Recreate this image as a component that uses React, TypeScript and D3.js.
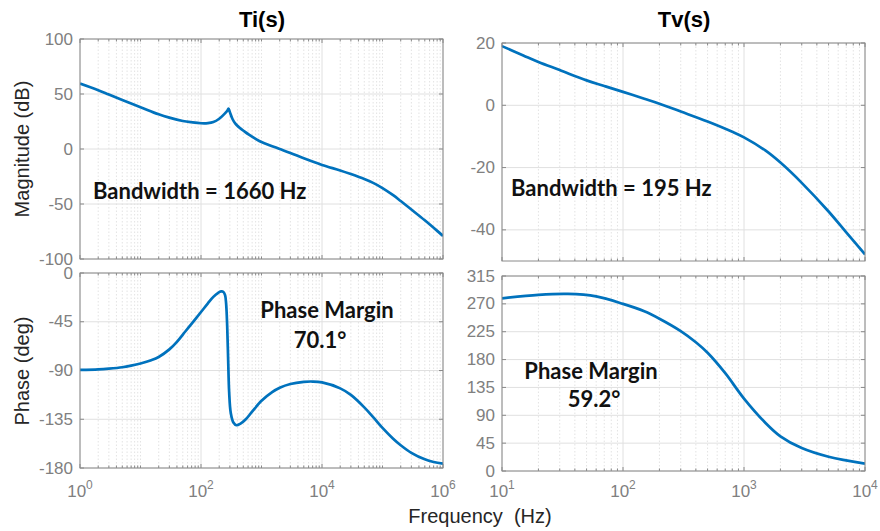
import * as d3 from "d3";

// Ti(s) loop gain
const tiMagFreq = [1, 2, 3, 5, 10, 20, 30, 50, 70, 100, 130, 160, 200, 240, 270, 285, 300, 330, 370, 430, 520, 620, 800, 1000, 1500, 2000, 3000, 5000, 1e4, 2e4, 3e4, 5e4, 7e4, 1e5, 1.5e5, 2e5, 3e5, 5e5, 7e5, 1e6];
const tiMagDb = [59.5, 53.5, 49.5, 44.5, 38, 31.5, 28.5, 25.5, 24.3, 23.4, 23.5, 24.5, 27.5, 31.5, 34.5, 36.8, 33.5, 27.5, 23, 19.5, 16, 13, 9.2, 6.3, 2.6, 0, -3.6, -8.5, -14.5, -19.5, -22.8, -27.3, -30.8, -35.5, -42, -47.3, -55, -64.8, -71.6, -79];

const tiPhaseFreq = [1, 2, 3, 5, 7, 10, 15, 20, 30, 40, 55, 73, 100, 130, 160, 190, 215, 235, 250, 260, 271, 281, 292, 310, 343, 386, 450, 550, 700, 1000, 1500, 2000, 3000, 5000, 7000, 1e4, 2e4, 3e4, 5e4, 7e4, 1e5, 1.5e5, 2e5, 3e5, 5e5, 7e5, 1e6];
const tiPhaseDeg = [-89.5, -89, -88.3, -87, -85.5, -83.5, -80.5, -77.5, -70.5, -63.5, -54, -45.5, -36, -28, -22, -18.5, -17, -17.5, -20.5, -28, -49, -80, -110, -129, -138, -140.5, -139, -135, -128, -118, -110, -106, -102.5, -100.5, -100.2, -101, -106.5, -112.5, -124, -133, -143, -153, -159, -166, -172, -174.5, -176];

// Tv(s) loop gain
const tvMagFreq = [10, 15, 20, 30, 50, 70, 100, 150, 200, 300, 500, 800, 1000, 1500, 2000, 3000, 5000, 7000, 1e4];
const tvMagDb = [19, 16, 13.9, 11.3, 8, 6.2, 4.3, 2.1, 0.5, -2, -5.2, -8.5, -10.3, -14.5, -18.4, -24.9, -34.1, -40.8, -47.9];

const tvPhaseFreq = [10, 20, 35, 60, 100, 150, 200, 300, 400, 500, 700, 1000, 1500, 2000, 3000, 5000, 1e4];
const tvPhaseDeg = [279, 284.5, 286, 282, 270, 258, 246, 226, 208, 191, 158, 117, 78, 56, 37, 23, 12];

const tiXTicks = [1, 1e2, 1e4, 1e6];
const tvXTicks = [10, 1e2, 1e3, 1e4];
const tiMagTicks = [-100, -50, 0, 50, 100];
const tiPhaseTicks = [-180, -135, -90, -45, 0];
const tvMagTicks = [-40, -20, 0, 20];
const tvPhaseTicks = [0, 45, 90, 135, 180, 225, 270, 315];

const FONT = "'Liberation Sans', Arial, Helvetica, sans-serif";
const NOTE_FONT = "Lato, Calibri, sans-serif";
const BLUE = "#0072BD";

type Box = { l: number; r: number; t: number; b: number };

function Panel({
  id,
  box,
  xDomain,
  yDomain,
  yTicks,
  xTicks,
  freq,
  values,
  xLabels,
}: {
  id: string;
  box: Box;
  xDomain: [number, number];
  yDomain: [number, number];
  yTicks: number[];
  xTicks: number[];
  freq: number[];
  values: number[];
  xLabels: boolean;
}) {
  const x = d3.scaleLog().domain(xDomain).range([box.l, box.r]);
  const y = d3.scaleLinear().domain(yDomain).range([box.b, box.t]);

  // minor positions: every m*10^k that is not a labelled tick
  const minor: number[] = [];
  const k0 = Math.round(Math.log10(xDomain[0]));
  const k1 = Math.round(Math.log10(xDomain[1]));
  for (let k = k0; k < k1; k++) {
    for (let m = 1; m <= 9; m++) {
      const v = m * Math.pow(10, k);
      if (!xTicks.some((t) => Math.abs(t - v) < 1e-9)) minor.push(v);
    }
  }

  const line = d3
    .line<number>()
    .x((_, i) => x(freq[i]))
    .y((d) => y(d))
    .curve(d3.curveCatmullRom.alpha(0.5));

  return (
    <g>
      <defs>
        <clipPath id={id}>
          <rect x={box.l} y={box.t - 2} width={box.r - box.l} height={box.b - box.t + 4} />
        </clipPath>
      </defs>
      <rect x={box.l} y={box.t} width={box.r - box.l} height={box.b - box.t} fill="#fff" />
      {/* grid */}
      {minor.map((v) => (
        <line key={"m" + v} x1={x(v)} x2={x(v)} y1={box.t} y2={box.b} stroke="#e3e3e3" strokeDasharray="1.5,2" />
      ))}
      {xTicks.map((v) => (
        <line key={"M" + v} x1={x(v)} x2={x(v)} y1={box.t} y2={box.b} stroke="#e0e0e0" />
      ))}
      {yTicks.map((v) => (
        <line key={"y" + v} x1={box.l} x2={box.r} y1={y(v)} y2={y(v)} stroke="#e0e0e0" />
      ))}
      {/* tick marks, inward on all sides */}
      {minor.map((v) => (
        <g key={"tm" + v} stroke="#8a8a8a">
          <line x1={x(v)} x2={x(v)} y1={box.b} y2={box.b - 2.5} />
          <line x1={x(v)} x2={x(v)} y1={box.t} y2={box.t + 2.5} />
        </g>
      ))}
      {xTicks.map((v) => (
        <g key={"tM" + v} stroke="#8a8a8a">
          <line x1={x(v)} x2={x(v)} y1={box.b} y2={box.b - 4} />
          <line x1={x(v)} x2={x(v)} y1={box.t} y2={box.t + 4} />
        </g>
      ))}
      {yTicks.map((v) => (
        <g key={"ty" + v} stroke="#8a8a8a">
          <line x1={box.l} x2={box.l + 4} y1={y(v)} y2={y(v)} />
          <line x1={box.r} x2={box.r - 4} y1={y(v)} y2={y(v)} />
        </g>
      ))}
      <path d={line(values) || ""} fill="none" stroke={BLUE} strokeWidth={2.7} clipPath={`url(#${id})`} />
      <rect x={box.l} y={box.t} width={box.r - box.l} height={box.b - box.t} fill="none" stroke="#8a8a8a" />
      {/* y tick labels */}
      {yTicks.map((v) => (
        <text
          key={"yl" + v}
          x={box.l - 7}
          y={y(v)}
          textAnchor="end"
          dominantBaseline="central"
          fontFamily={FONT}
          fontSize={17}
          fill="#808080"
        >
          {v}
        </text>
      ))}
      {xLabels &&
        xTicks.map((v) => (
          <text key={"xl" + v} x={x(v)} y={497} textAnchor="middle" fontFamily={FONT} fontSize={17} fill="#808080">
            <tspan>10</tspan>
            <tspan dy={-8} fontSize={12}>
              {Math.round(Math.log10(v))}
            </tspan>
          </text>
        ))}
    </g>
  );
}

export default function App() {
  return (
    <svg
      width={880}
      height={531}
      viewBox="0 0 880 531"
      style={{ position: "absolute", left: 0, top: 0, background: "#fff" }}
    >
      <rect width={880} height={531} fill="#fff" />
      <Panel
        id="tiMag"
        box={{ l: 80, r: 443, t: 39, b: 259 }}
        xDomain={[1, 1e6]}
        yDomain={[-100, 100]}
        yTicks={tiMagTicks}
        xTicks={tiXTicks}
        freq={tiMagFreq}
        values={tiMagDb}
        xLabels={false}
      />
      <Panel
        id="tiPhase"
        box={{ l: 80, r: 443, t: 273, b: 468 }}
        xDomain={[1, 1e6]}
        yDomain={[-180, 0]}
        yTicks={tiPhaseTicks}
        xTicks={tiXTicks}
        freq={tiPhaseFreq}
        values={tiPhaseDeg}
        xLabels={true}
      />
      <Panel
        id="tvMag"
        box={{ l: 502, r: 865, t: 43, b: 261 }}
        xDomain={[10, 1e4]}
        yDomain={[-50, 20]}
        yTicks={tvMagTicks}
        xTicks={tvXTicks}
        freq={tvMagFreq}
        values={tvMagDb}
        xLabels={false}
      />
      <Panel
        id="tvPhase"
        box={{ l: 502, r: 865, t: 276, b: 471 }}
        xDomain={[10, 1e4]}
        yDomain={[0, 315]}
        yTicks={tvPhaseTicks}
        xTicks={tvXTicks}
        freq={tvPhaseFreq}
        values={tvPhaseDeg}
        xLabels={true}
      />

      {/* titles */}
      <text x={262} y={27} textAnchor="middle" fontFamily={FONT} fontWeight="bold" fontSize={22} fill="#000">
        Ti(s)
      </text>
      <text x={684} y={27} textAnchor="middle" fontFamily={FONT} fontWeight="bold" fontSize={22} fill="#000">
        Tv(s)
      </text>

      {/* axis labels */}
      <text
        transform="translate(22,149) rotate(-90)"
        textAnchor="middle"
        dominantBaseline="central"
        fontFamily={FONT}
        fontSize={20}
        fill="#262626"
      >
        Magnitude (dB)
      </text>
      <text
        transform="translate(22,371) rotate(-90)"
        textAnchor="middle"
        dominantBaseline="central"
        fontFamily={FONT}
        fontSize={20}
        fill="#262626"
      >
        Phase (deg)
      </text>
      <text x={480} y={523} textAnchor="middle" fontFamily={FONT} fontSize={20} fill="#262626" xmlSpace="preserve">
        Frequency  (Hz)
      </text>

      {/* annotations */}
      <g fontFamily={NOTE_FONT} fontWeight="bold" fontSize={22} fill="#111">
        <text x={93} y={199}>Bandwidth = 1660 Hz</text>
        <text x={511} y={196}>Bandwidth = 195 Hz</text>
        <text x={327} y={318} textAnchor="middle">Phase Margin</text>
        <text x={320} y={348} textAnchor="middle">70.1°</text>
        <text x={591} y={379} textAnchor="middle">Phase Margin</text>
        <text x={594} y={407} textAnchor="middle">59.2°</text>
      </g>
    </svg>
  );
}
